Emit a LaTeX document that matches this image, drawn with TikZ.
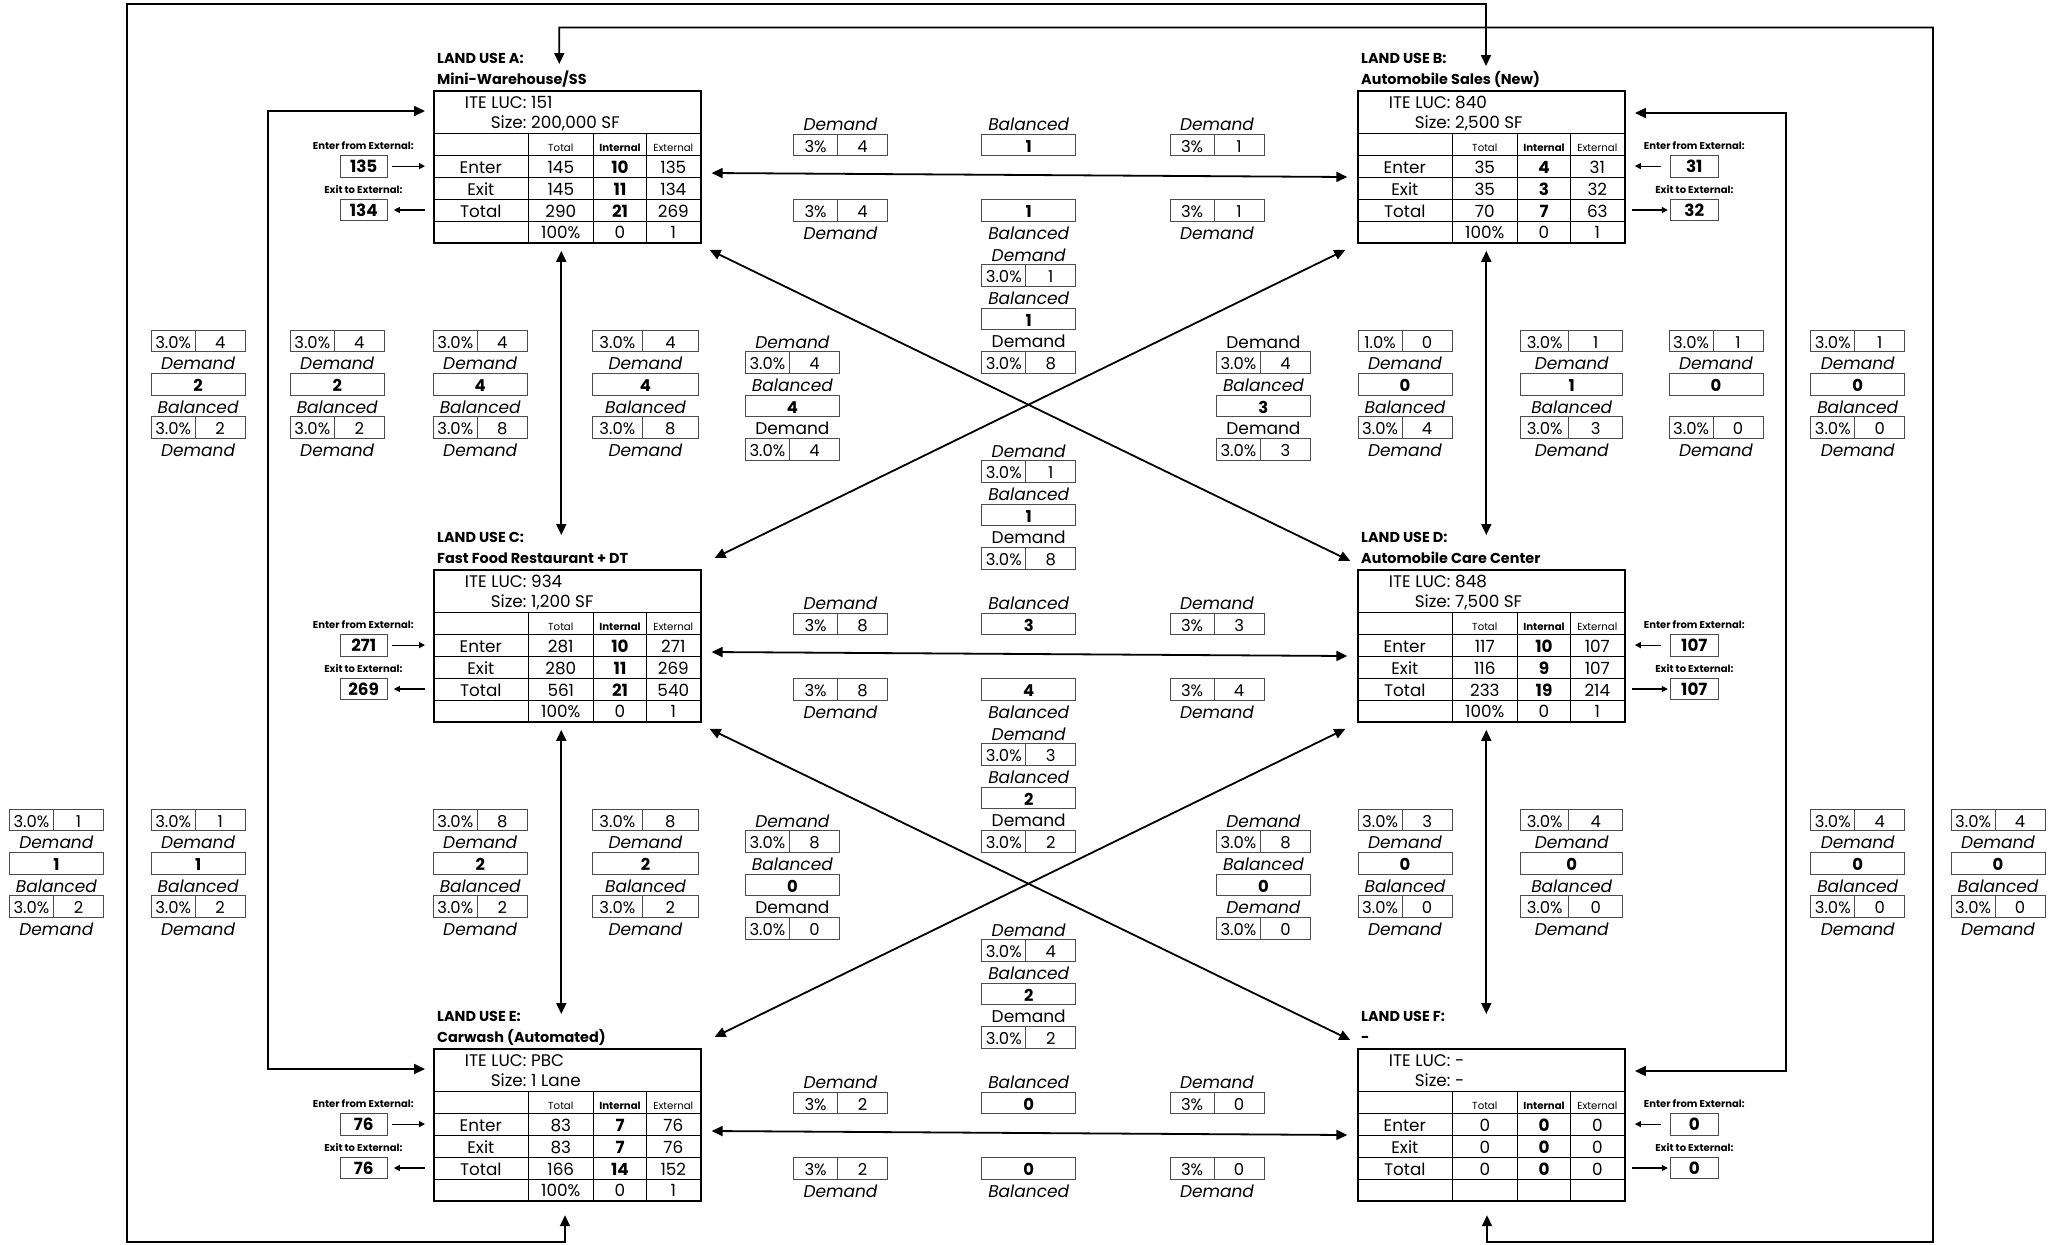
\documentclass[tikz,border=0pt]{standalone}
\usepackage{fontspec}
\setmainfont{Poppins}
\usetikzlibrary{arrows.meta,calc}
\tikzset{
  >={Triangle[length=5.5pt,width=5pt]},
  conn/.style={line width=0.9pt,<->},
  smarr/.style={line width=0.55pt,-{Triangle[length=3pt,width=3pt]}},
  tablebox/.style={draw,line width=0.8pt,inner sep=0pt,minimum width=133.35pt,minimum height=76.15pt,anchor=north west},
  gthin/.style={line width=0.35pt},
  gthick/.style={line width=0.7pt},
  tx/.style={inner sep=0pt,text height=0.72em,text depth=0pt},
  ttext/.style={tx,font=\fontsize{8.4}{9}\selectfont},
  tbold/.style={tx,font=\fontsize{8.4}{9}\selectfont\bfseries},
  htext/.style={tx,font=\fontsize{5.1}{6}\selectfont},
  hbold/.style={tx,font=\fontsize{5.1}{6}\selectfont\bfseries},
  titletext/.style={tx,anchor=west,font=\fontsize{7.2}{8}\selectfont\bfseries},
  extlbl/.style={tx,font=\fontsize{5}{6}\selectfont\bfseries},
  extbox/.style={draw=black!70,line width=0.45pt,inner sep=0pt,minimum width=23.65pt,minimum height=10.85pt,font=\fontsize{8.4}{9}\selectfont\bfseries},
  sbox/.style={draw=black!70,line width=0.45pt},
  stext/.style={tx,font=\fontsize{8.2}{9}\selectfont},
  sbold/.style={tx,font=\fontsize{8.2}{9}\selectfont\bfseries},
  lit/.style={tx,font=\fontsize{8.5}{9}\selectfont\itshape},
  lup/.style={tx,font=\fontsize{8.5}{9}\selectfont},
  lA/.style={lit}, lC/.style={lup}
}
% demand box: name, cx, cy, width, pct, value
\newcommand{\DBox}[6]{%
  \draw[sbox] ({#2-#4/2},{#3-10.85}) rectangle ({#2+#4/2},{#3+10.85});
  \draw[sbox] ({#2-0.03*#4},{#3-10.85}) -- ({#2-0.03*#4},{#3+10.85});
  \node[stext] (#1-p) at ({#2-0.265*#4},{#3}) {#5};
  \node[stext] (#1-v) at ({#2+0.235*#4},{#3}) {#6};}
% balanced box: name, cx, cy, width, value
\newcommand{\BBox}[5]{%
  \draw[sbox] ({#2-#4/2},{#3-10.85}) rectangle ({#2+#4/2},{#3+10.85});
  \node[sbold] (#1) at ({#2},{#3}) {#5};}
\newcommand{\Lbl}[5]{\node[#4] (#1) at ({#2},{#3}) {#5};}
\def\balT{Balanced}
\newcommand{\StackA}[9]{%
  \DBox{#1-a}{#2}{#3}{#4}{#5}{#6}%
  \Lbl{#1-la}{#2}{#3+21.65}{lit}{Demand}%
  \BBox{#1-b}{#2}{#3+43.3}{#4}{#7}%
  \Lbl{#1-lb}{#2}{#3+64.95}{lit}{\balT}%
  \DBox{#1-c}{#2}{#3+86.6}{#4}{#8}{#9}%
  \Lbl{#1-lc}{#2}{#3+108.25}{lit}{Demand}}
\newcommand{\StackB}[9]{%
  \Lbl{#1-la}{#2}{#3}{lA}{Demand}%
  \DBox{#1-a}{#2}{#3+21.65}{#4}{#5}{#6}%
  \Lbl{#1-lb}{#2}{#3+43.3}{lit}{Balanced}%
  \BBox{#1-b}{#2}{#3+64.95}{#4}{#7}%
  \Lbl{#1-lc}{#2}{#3+86.6}{lC}{Demand}%
  \DBox{#1-c}{#2}{#3+108.25}{#4}{#8}{#9}}
\newcommand{\RowBx}[8]{%
  \Lbl{#1-l1}{840.5}{#2+33.3}{lit}{Demand}%
  \Lbl{#1-l2}{1028.7}{#2+33.3}{lit}{Balanced}%
  \Lbl{#1-l3}{1217}{#2+33.3}{lit}{Demand}%
  \DBox{#1-a}{840.5}{#2+54.8}{94}{3\%}{#3}%
  \BBox{#1-b}{1028.7}{#2+54.8}{94}{#4}%
  \DBox{#1-c}{1217}{#2+54.8}{94}{3\%}{#5}%
  \DBox{#1-d}{840.5}{#2+120.2}{94}{3\%}{#6}%
  \BBox{#1-e}{1028.7}{#2+120.2}{94}{#7}%
  \DBox{#1-f}{1217}{#2+120.2}{94}{3\%}{#8}%
  \Lbl{#1-l4}{840.5}{#2+142}{lit}{Demand}%
  \Lbl{#1-l5}{1028.7}{#2+142}{lit}{Balanced}%
  \Lbl{#1-l6}{1217}{#2+142}{lit}{Demand}}
% table frame: id, x0, y0, letter, name, luc, size
\newcommand{\LUframe}[7]{%
  \draw[gthick] ({#2},{#3+43.3}) -- ({#2+266.7},{#3+43.3});
  \draw[gthin] ({#2},{#3+65.1}) -- ({#2+266.7},{#3+65.1})
     ({#2},{#3+87.1}) -- ({#2+266.7},{#3+87.1})
     ({#2},{#3+109.1}) -- ({#2+266.7},{#3+109.1})
     ({#2},{#3+131}) -- ({#2+266.7},{#3+131})
     ({#2+95},{#3+43.3}) -- ({#2+95},{#3+152.3})
     ({#2+160},{#3+43.3}) -- ({#2+160},{#3+152.3})
     ({#2+213.4},{#3+43.3}) -- ({#2+213.4},{#3+152.3});
  \node[tablebox] (t#1) at ({#2},{#3}) {};
  \node[titletext] (t#1-h1) at ({#2+3.5},{#3-34}) {LAND USE #4:};
  \node[titletext] (t#1-h2) at ({#2+3.5},{#3-12.5}) {#5};
  \node[ttext,anchor=east] (t#1-k1) at ({#2+93.5},{#3+11.7}) {ITE LUC:};
  \node[ttext,anchor=west] (t#1-v1) at ({#2+97.5},{#3+11.7}) {#6};
  \node[ttext,anchor=east] (t#1-k2) at ({#2+93.5},{#3+31.7}) {Size:};
  \node[ttext,anchor=west] (t#1-v2) at ({#2+97.5},{#3+31.7}) {#7};
  \node[htext] (t#1-c2) at ({#2+127.5},{#3+54.2}) {Total};
  \node[hbold] (t#1-c3) at ({#2+186.7},{#3+54.2}) {Internal};
  \node[htext] (t#1-c4) at ({#2+240},{#3+54.2}) {External};}
\newcommand{\LUrow}[7]{%
  \node[ttext] (#1-a) at ({#2+47.5},{#3}) {#4};
  \node[ttext] (#1-b) at ({#2+127.5},{#3}) {#5};
  \node[tbold] (#1-c) at ({#2+186.7},{#3}) {#6};
  \node[ttext] (#1-d) at ({#2+240},{#3}) {#7};}
\newcommand{\LUpct}[6]{%
  \node[ttext] (#1-b) at ({#2+127.5},{#3}) {#4};
  \node[ttext] (#1-c) at ({#2+186.7},{#3}) {#5};
  \node[ttext] (#1-d) at ({#2+240},{#3}) {#6};}
\newcommand{\ExtL}[5]{%
  \node[extlbl] (x#1-l1) at ({#2-70},{#3+52}) {Enter from External:};
  \node[extbox] (x#1-in) at ({#2-69.6},{#3+76.1}) {#4};
  \node[extlbl] (x#1-l2) at ({#2-70},{#3+96}) {Exit to External:};
  \node[extbox] (x#1-out) at ({#2-69.6},{#3+120}) {#5};
  \draw[smarr] ($(x#1-in.east)+(4.4,0)$) -- ($(x#1-in.east -| t#1.west)+(-8.3,0)$);
  \draw[smarr] ($(x#1-out.east -| t#1.west)+(-8.3,0)$) -- ($(x#1-out.east)+(6,0)$);}
\newcommand{\ExtR}[5]{%
  \node[extlbl] (x#1-l1) at ({#2+337},{#3+52}) {Enter from External:};
  \node[extbox] (x#1-in) at ({#2+337},{#3+76.1}) {#4};
  \node[extlbl] (x#1-l2) at ({#2+337},{#3+96}) {Exit to External:};
  \node[extbox] (x#1-out) at ({#2+337},{#3+120}) {#5};
  \draw[smarr] ($(x#1-in.west)+(-9,0)$) -- ($(x#1-in.west -| t#1.east)+(9.3,0)$);
  \draw[smarr] ($(x#1-out.west -| t#1.east)+(6,0)$) -- ($(x#1-out.west)+(-2.4,0)$);}

\begin{document}
\begin{tikzpicture}[x=0.5pt,y=-0.5pt]
\fill[white] (0,0) rectangle (2057,1244);
\useasboundingbox (0,0) rectangle (2057,1244);

% ---------------- Land use tables ----------------
\LUframe{A}{433.3}{90}{A}{Mini-Warehouse/SS}{151}{200,000 SF}
\LUrow{rA1}{433.3}{90+76.1}{Enter}{145}{10}{135}
\LUrow{rA2}{433.3}{90+98.1}{Exit}{145}{11}{134}
\LUrow{rA3}{433.3}{90+120}{Total}{290}{21}{269}
\LUpct{rA4}{433.3}{90+141.6}{100\%}{0}{1}
\ExtL{A}{433.3}{90}{135}{134}

\LUframe{B}{1357.3}{90}{B}{Automobile Sales (New)}{840}{2,500 SF}
\LUrow{rB1}{1357.3}{90+76.1}{Enter}{35}{4}{31}
\LUrow{rB2}{1357.3}{90+98.1}{Exit}{35}{3}{32}
\LUrow{rB3}{1357.3}{90+120}{Total}{70}{7}{63}
\LUpct{rB4}{1357.3}{90+141.6}{100\%}{0}{1}
\ExtR{B}{1357.3}{90}{31}{32}

\LUframe{C}{433.3}{569}{C}{Fast Food Restaurant + DT}{934}{1,200 SF}
\LUrow{rC1}{433.3}{569+76.1}{Enter}{281}{10}{271}
\LUrow{rC2}{433.3}{569+98.1}{Exit}{280}{11}{269}
\LUrow{rC3}{433.3}{569+120}{Total}{561}{21}{540}
\LUpct{rC4}{433.3}{569+141.6}{100\%}{0}{1}
\ExtL{C}{433.3}{569}{271}{269}

\LUframe{D}{1357.3}{569}{D}{Automobile Care Center}{848}{7,500 SF}
\LUrow{rD1}{1357.3}{569+76.1}{Enter}{117}{10}{107}
\LUrow{rD2}{1357.3}{569+98.1}{Exit}{116}{9}{107}
\LUrow{rD3}{1357.3}{569+120}{Total}{233}{19}{214}
\LUpct{rD4}{1357.3}{569+141.6}{100\%}{0}{1}
\ExtR{D}{1357.3}{569}{107}{107}

\LUframe{E}{433.3}{1048}{E}{Carwash (Automated)}{PBC}{1 Lane}
\LUrow{rE1}{433.3}{1048+76.1}{Enter}{83}{7}{76}
\LUrow{rE2}{433.3}{1048+98.1}{Exit}{83}{7}{76}
\LUrow{rE3}{433.3}{1048+120}{Total}{166}{14}{152}
\LUpct{rE4}{433.3}{1048+141.6}{100\%}{0}{1}
\ExtL{E}{433.3}{1048}{76}{76}

\LUframe{F}{1357.3}{1048}{F}{-}{-}{-}
\LUrow{rF1}{1357.3}{1048+76.1}{Enter}{0}{0}{0}
\LUrow{rF2}{1357.3}{1048+98.1}{Exit}{0}{0}{0}
\LUrow{rF3}{1357.3}{1048+120}{Total}{0}{0}{0}
\ExtR{F}{1357.3}{1048}{0}{0}

% ---------------- Connectors ----------------
\draw[conn] ($(tA.north west)+(126,-26)$) |- (1933,27.5) |- (1487,1242) -- ($(tF.south west)+(129.7,13.3)$);
\draw[conn] ($(tB.north west)+(128.7,-24)$) |- (127,4) |- (565,1242) -- ($(tE.south west)+(131.7,13.3)$);
\draw[conn] ($(tA.north west)+(-8.3,21)$) -| (268,600) |- ($(tE.north west)+(-8.3,21)$);
\draw[conn] ($(tB.north east)+(9.3,23)$) -| (1786,600) |- ($(tF.north east)+(9.3,23)$);
\draw[conn] ($(tA.north east)+(10,83)$) -- ($(tB.north west)+(-10,87)$);
\draw[conn] ($(tC.north east)+(10,83)$) -- ($(tD.north west)+(-10,87)$);
\draw[conn] ($(tE.north east)+(10,83)$) -- ($(tF.north west)+(-10,87)$);
\draw[conn] ($(tA.south west)+(128,7)$) -- ($(tC.north west)+(128,-34)$);
\draw[conn] ($(tC.south west)+(128,7)$) -- ($(tE.north west)+(128,-34)$);
\draw[conn] ($(tB.south west)+(129,7)$) -- ($(tD.north west)+(129,-34)$);
\draw[conn] ($(tD.south west)+(129,7)$) -- ($(tF.north west)+(129,-34)$);
\draw[conn] ($(tA.south east)+(8,6)$) -- ($(tD.north west)+(-7,-8)$);
\draw[conn] ($(tB.south west)+(-12,6)$) -- ($(tC.north east)+(13,-11)$);
\draw[conn] ($(tC.south east)+(8,6)$) -- ($(tF.north west)+(-7,-8)$);
\draw[conn] ($(tD.south west)+(-12,6)$) -- ($(tE.north east)+(13,-11)$);

% ---------------- Row boxes ----------------
\RowBx{rAB}{90}{4}{1}{1}{4}{1}{1}
\RowBx{rCD}{569}{8}{3}{3}{8}{4}{4}
\RowBx{rEF}{1048}{2}{0}{0}{2}{0}{0}

% ---------------- Middle column stacks ----------------
\StackB{m1}{1028.7}{254}{94}{3.0\%}{1}{1}{3.0\%}{8}
\StackB{m2}{1028.7}{450}{94}{3.0\%}{1}{1}{3.0\%}{8}
\StackB{m3}{1028.7}{733}{94}{3.0\%}{3}{2}{3.0\%}{2}
\StackB{m4}{1028.7}{929}{94}{3.0\%}{4}{2}{3.0\%}{2}

% ---------------- Upper band stacks ----------------
\StackA{s1}{198.1}{341}{94}{3.0\%}{4}{2}{3.0\%}{2}
\StackA{s2}{337.2}{341}{94}{3.0\%}{4}{2}{3.0\%}{2}
\StackA{s3}{480.2}{341}{94}{3.0\%}{4}{4}{3.0\%}{8}
\StackA{s4}{645.5}{341}{106}{3.0\%}{4}{4}{3.0\%}{8}
\StackB{s5}{792.4}{341}{94}{3.0\%}{4}{4}{3.0\%}{4}
{\tikzset{lA/.style={lup}}\StackB{s6}{1263.4}{341}{94}{3.0\%}{4}{3}{3.0\%}{3}}
\StackA{s7}{1405}{341}{94}{1.0\%}{0}{0}{3.0\%}{4}
\StackA{s8}{1571.7}{341}{102}{3.0\%}{1}{1}{3.0\%}{3}
{\def\balT{}\StackA{s9}{1716}{341}{94}{3.0\%}{1}{0}{3.0\%}{0}}
\StackA{s10}{1857.7}{341}{94}{3.0\%}{1}{0}{3.0\%}{0}

% ---------------- Lower band stacks ----------------
\StackA{u0}{56.4}{820}{94}{3.0\%}{1}{1}{3.0\%}{2}
\StackA{u1}{198.1}{820}{94}{3.0\%}{1}{1}{3.0\%}{2}
\StackA{u3}{480.2}{820}{94}{3.0\%}{8}{2}{3.0\%}{2}
\StackA{u4}{645.5}{820}{106}{3.0\%}{8}{2}{3.0\%}{2}
\StackB{u5}{792.4}{820}{94}{3.0\%}{8}{0}{3.0\%}{0}
{\tikzset{lC/.style={lit}}\StackB{u6}{1263.4}{820}{94}{3.0\%}{8}{0}{3.0\%}{0}}
\StackA{u7}{1405}{820}{94}{3.0\%}{3}{0}{3.0\%}{0}
\StackA{u8}{1571.7}{820}{102}{3.0\%}{4}{0}{3.0\%}{0}
\StackA{u10}{1857.7}{820}{94}{3.0\%}{4}{0}{3.0\%}{0}
\StackA{u11}{1998}{820}{94}{3.0\%}{4}{0}{3.0\%}{0}
\end{tikzpicture}
\end{document}
